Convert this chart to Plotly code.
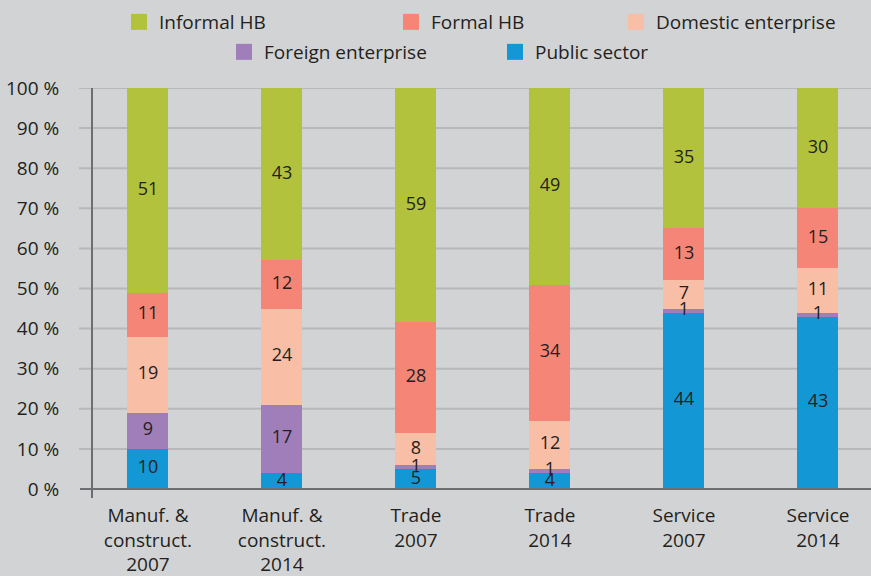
import plotly.graph_objects as go

categories = ["Manuf. &<br>construct.<br>2007", "Manuf. &<br>construct.<br>2014",
              "Trade<br>2007", "Trade<br>2014", "Service<br>2007", "Service<br>2014"]
public_sector = [10, 4, 5, 4, 44, 43]
foreign_enterprise = [9, 17, 1, 1, 1, 1]
domestic_enterprise = [19, 24, 8, 12, 7, 11]
formal_hb = [11, 12, 28, 34, 13, 15]
informal_hb = [51, 43, 59, 49, 35, 30]
y_ticks = [0, 10, 20, 30, 40, 50, 60, 70, 80, 90, 100]
y_tick_labels = [f"{t} %" for t in y_ticks]

series = [
    ("Public sector", public_sector, "#1497d5"),
    ("Foreign enterprise", foreign_enterprise, "#9f7eb9"),
    ("Domestic enterprise", domestic_enterprise, "#f9bea6"),
    ("Formal HB", formal_hb, "#f58677"),
    ("Informal HB", informal_hb, "#b3c23d"),
]

FONT = "Open Sans"
TXT = "#231f20"
BG = "#d2d3d5"
GRID = "#b7b8ba"
AXIS = "#6d6e71"

fig = go.Figure()

totals = [sum(s[1][i] for s in series) for i in range(len(categories))]
cum = [0] * len(categories)
for name, vals, color in series:
    fig.add_trace(go.Bar(x=categories, y=vals, name=name, marker=dict(color=color, line=dict(width=0)),
                         width=0.306, showlegend=False, hoverinfo="skip"))
    mids = [(cum[i] + vals[i] / 2) / totals[i] * 100 for i in range(len(categories))]
    cum = [cum[i] + vals[i] for i in range(len(categories))]
    fig.add_trace(go.Scatter(x=categories, y=mids, mode="text", text=[str(v) for v in vals],
                             textfont=dict(family=FONT, size=18, color=TXT), showlegend=False,
                             hoverinfo="skip"))

# legend entries (one legend box per entry to mimic free placement)
legend_pos = {
    "Informal HB": ("legend", 139, 22),
    "Formal HB": ("legend2", 411, 22),
    "Domestic enterprise": ("legend3", 636, 22),
    "Foreign enterprise": ("legend4", 244, 52),
    "Public sector": ("legend5", 515, 52),
}
L, R, T, B = 93, 0, 88, 78
W, H = 871, 576
pw, ph = W - L - R, H - T - B

legend_layout = {}
for name, vals, color in series:
    lg, cx, cy = legend_pos[name]
    fig.add_trace(go.Scatter(x=[None], y=[None], mode="markers", name=name, legend=lg,
                             marker=dict(symbol="square", size=16, color=color)))
    legend_layout[lg] = dict(x=(cx - 20 - L) / pw, y=(H - B - cy) / ph, xanchor="left", yanchor="middle",
                             bgcolor="rgba(0,0,0,0)", borderwidth=0,
                             font=dict(family=FONT, size=19, color=TXT))

shapes = []
for t in y_ticks[1:]:
    shapes.append(dict(type="line", xref="paper", yref="y", x0=(79 - L) / pw, x1=1, y0=t, y1=t,
                       line=dict(color=GRID, width=2), layer="below"))
shapes.append(dict(type="line", xref="paper", yref="y", x0=(80 - L) / pw, x1=1, y0=0, y1=0,
                   line=dict(color=AXIS, width=2), layer="above"))

fig.update_layout(
    width=W, height=H,
    margin=dict(l=L, r=R, t=T, b=B, pad=0, autoexpand=False),
    paper_bgcolor=BG, plot_bgcolor=BG,
    barmode="stack", barnorm="percent",
    font=dict(family=FONT, size=19, color=TXT),
    shapes=shapes,
    hovermode=False,
    xaxis=dict(type="category", range=[-0.41, 5.396], showgrid=False, zeroline=False, showline=False,
               ticks="", tickfont=dict(family=FONT, size=19, color=TXT), ticklabelstandoff=4,
               automargin=False),
    yaxis=dict(range=[-2.24, 100], tickmode="array", tickvals=y_ticks, ticktext=y_tick_labels,
               showgrid=False, zeroline=False, automargin=False,
               showline=True, linecolor=AXIS, linewidth=2, ticks="",
               tickfont=dict(family=FONT, size=19, color=TXT), ticklabelstandoff=28),
    **legend_layout,
)

fig.write_html("out.html", config={"displayModeBar": False},
               post_script="document.body.style.margin='0';document.body.style.overflow='hidden';")
